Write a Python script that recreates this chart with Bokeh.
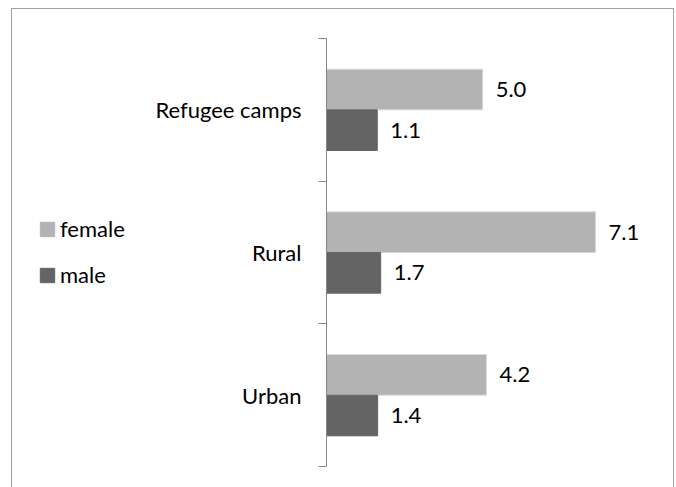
from bokeh.plotting import figure
from bokeh.layouts import row
from bokeh.models import (Range1d, FixedTicker, Legend, LegendItem,
                          ColumnDataSource)
from bokeh.core.properties import value
from bokeh.embed import file_html
from bokeh.resources import INLINE

# ---- data (bottom to top) ----
categories = ["Urban", "Rural", "Refugee camps"]
female = [4.22, 7.10, 4.12]          # bar lengths as drawn
male = [1.35, 1.43, 1.34]
female_labels = ["4.2", "7.1", "5.0"]  # data labels as printed
male_labels = ["1.4", "1.7", "1.1"]
series = ["female", "male"]
colors = ["#b3b3b3", "#646464"]

FONT = "Lato"
FS = "22px"
AXIS_COLOR = "#868686"
BORDER_COLOR = "#a0a0a0"
H = 479

centers = [i + 0.5 for i in range(len(categories))]
bar_h = 0.285

src = ColumnDataSource(dict(
    y_f=[c + bar_h / 2 for c in centers],
    y_m=[c - bar_h / 2 for c in centers],
    female=female, male=male,
    fl=female_labels, ml=male_labels,
))

# ---------- main chart ----------
p = figure(width=523, height=H, output_backend="svg", toolbar_location=None,
           x_range=Range1d(0, 9.13), y_range=Range1d(0, len(categories)),
           min_border_left=175, min_border_right=2,
           min_border_top=30, min_border_bottom=21,
           x_axis_location=None, y_axis_location="left")
p.grid.visible = False
p.outline_line_color = None
p.background_fill_color = None
p.border_fill_color = None

rf = p.hbar(y="y_f", left=0, right="female", height=bar_h, source=src,
            fill_color=colors[0], line_color="#d9d9d9", line_width=1)
rm = p.hbar(y="y_m", left=0, right="male", height=bar_h, source=src,
            fill_color=colors[1], line_color=colors[1], line_width=1)

p.text(x="female", y="y_f", text="fl", source=src, x_offset=13,
       text_baseline="middle", text_align="left", text_color="#000000",
       text_font=value(FONT), text_font_size=FS)
p.text(x="male", y="y_m", text="ml", source=src, x_offset=13,
       text_baseline="middle", text_align="left", text_color="#000000",
       text_font=value(FONT), text_font_size=FS)

yax = p.yaxis[0]
yax.ticker = FixedTicker(ticks=centers, minor_ticks=list(range(len(categories) + 1)))
yax.major_label_overrides = {c: cat for c, cat in zip(centers, categories)}
yax.major_tick_out = 0
yax.major_tick_in = 0
yax.minor_tick_out = 8
yax.minor_tick_in = 0
yax.minor_tick_line_color = AXIS_COLOR
yax.axis_line_color = AXIS_COLOR
yax.major_label_standoff = 17
yax.major_label_text_font = FONT
yax.major_label_text_font_size = FS
yax.major_label_text_color = "#000000"

# ---------- legend panel (its own view of the same bars, scrolled out of sight) ----------
lf = figure(width=140, height=H, output_backend="svg", toolbar_location=None,
            x_range=Range1d(-2, -1), y_range=Range1d(0, len(categories)),
            min_border=0, x_axis_location=None, y_axis_location=None)
lf.grid.visible = False
lf.outline_line_color = None
lf.background_fill_color = None
lf.border_fill_color = None
lf_f = lf.hbar(y="y_f", left=0, right="female", height=bar_h, source=src,
               fill_color=colors[0], line_color=colors[0])
lf_m = lf.hbar(y="y_m", left=0, right="male", height=bar_h, source=src,
               fill_color=colors[1], line_color=colors[1])

legend = Legend(items=[LegendItem(label=series[0], renderers=[lf_f]),
                       LegendItem(label=series[1], renderers=[lf_m])],
                location=(27, 178), orientation="vertical",
                glyph_width=18, glyph_height=18, label_height=18,
                label_standoff=4, spacing=19, padding=0, margin=0,
                border_line_color=None, background_fill_alpha=0,
                label_text_font=FONT, label_text_font_size=FS,
                label_text_color="#000000")
lf.add_layout(legend)

layout = row(lf, p)
layout.margin = (8, 0, 0, 11)
layout.styles = {"box-shadow": f"inset 1px 1px 0 0 {BORDER_COLOR}, inset -1px 0 0 0 {BORDER_COLOR}"}

open("out.html", "w").write(file_html(layout, INLINE))
